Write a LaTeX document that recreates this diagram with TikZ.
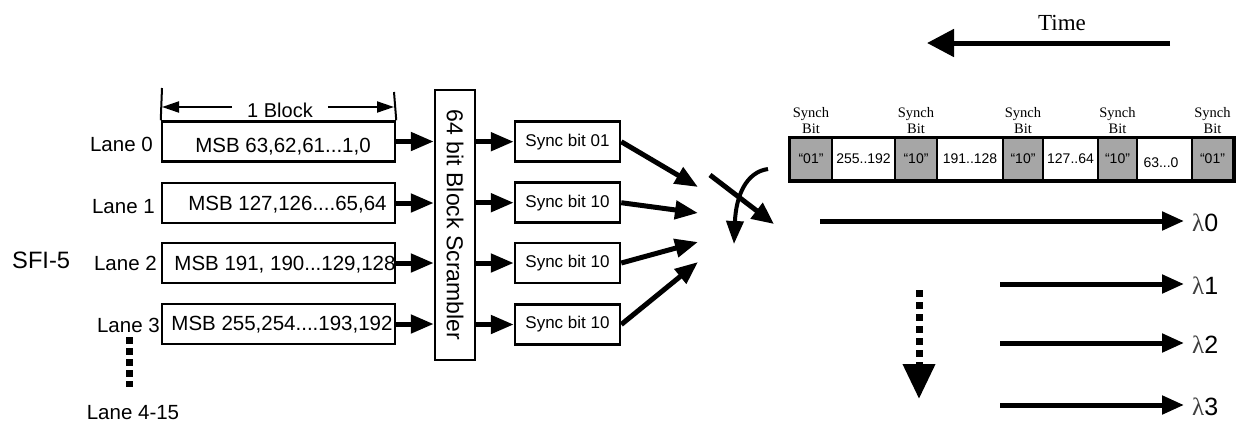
\documentclass[tikz,border=0pt]{standalone}
\usepackage{fontspec}
\setmainfont{Liberation Sans}
\newfontfamily\serifface{Liberation Serif}
\usetikzlibrary{arrows.meta}
\newcommand{\fs}[1]{\fontsize{#1}{#1}\selectfont}
\begin{document}
\begin{tikzpicture}[x=1pt,y=-1pt,
  box/.style={draw, line width=2.5pt, inner sep=0pt, minimum height=40pt},
  lanebox/.style={box, minimum width=233pt},
  syncbox/.style={box, minimum width=105pt, font=\fs{17}},
  txt/.style={inner sep=0pt, font=\fs{20.5}},
  big/.style={line width=5pt, -{Triangle[length=23pt,width=18pt]}},
  dim/.style={line width=2pt, -{Triangle[length=17pt,width=11pt]}},
  cell/.style={draw, line width=1.5pt, inner sep=0pt, minimum height=42pt, font=\fs{14}},
  graycell/.style={cell, fill=black!35},
  synch/.style={align=center, inner sep=0pt, font=\serifface\fontsize{14.5}{16}\selectfont},
  lam/.style={line width=5pt, -{Triangle[length=22pt,width=18pt]}},
  lamtxt/.style={anchor=west, inner sep=0pt, font=\fs{25}},
  dots/.style={line width=7pt, dash pattern=on 7pt off 4pt}
]
\useasboundingbox (0,0) rectangle (1236,424);

% lane boxes
\node[lanebox] (l0) at (278.5,141.5) {};
\node[lanebox] (l1) at (278.5,203) {};
\node[lanebox] (l2) at (278.5,263) {};
\node[lanebox] (l3) at (278.5,324) {};
\node[txt] (t0) at (283,147) {MSB 63,62,61...1,0};
\node[txt] (t1) at (287.5,205) {MSB 127,126....65,64};
\node[txt] (t2) at (285,265) {MSB 191, 190...129,128};
\node[txt] (t3) at (282,325) {MSB 255,254....193,192};

% lane labels
\node[txt, anchor=east] (n0) at (153,144) {Lane 0};
\node[txt, anchor=east] (n1) at (155,207) {Lane 1};
\node[txt, anchor=east] (n2) at (157,263) {Lane 2};
\node[txt, anchor=east] (n3) at (160,325) {Lane 3};
\node[inner sep=0pt, font=\fs{23.7}, anchor=west] (sfi) at (12,260) {SFI-5};
\node[txt] (n415) at (133,413) {Lane 4-15};
\coordinate (ld0) at (129,337);
\coordinate (ld1) at (129,387);
\draw[dots] (ld0) -- (ld1);

% 1 Block dimension
\coordinate (da) at (162,107);
\coordinate (db) at (394,107);
\coordinate (ea) at (162,88);
\coordinate (eb) at (394,92);
\draw[line width=2pt] (ea) -- (l0.north west);
\draw[line width=2pt] (eb) -- (l0.north east);
\node[txt, inner xsep=15pt, font=\fs{20}] (blk) at (280,110) {1 Block};
\draw[dim] (blk.west |- da) -- (da);
\draw[dim] (blk.east |- db) -- (db);

% scrambler
\node[box, minimum width=40pt, minimum height=270pt] (scr) at (455,225) {};
\node[rotate=-90, inner sep=0pt, font=\fs{23}] (scrt) at (455,225) {64 bit Block Scrambler};

% sync boxes
\node[syncbox] (s0) at (567.5,141.7) {Sync bit 01};
\node[syncbox] (s1) at (567.5,202.7) {Sync bit 10};
\node[syncbox] (s2) at (567.5,263) {Sync bit 10};
\node[syncbox] (s3) at (567.5,324.5) {Sync bit 10};

\foreach \i in {0,1,2,3}{
  \draw[big] (l\i.east) -- (l\i.east -| scr.west);
  \draw[big] (scr.east |- s\i.west) -- (s\i.west);
}

% converging arrows
\coordinate (m0) at (698,187);
\coordinate (m1) at (698,213);
\coordinate (m2) at (698,242);
\coordinate (m3) at (698,262);
\draw[big] (s0.east) -- (m0);
\draw[big] (s1.east) -- (m1);
\draw[big] (s2.east) -- (m2);
\draw[big] (s3.east) -- (m3);

% cross symbol
\coordinate (x0) at (710,175);
\coordinate (x1) at (774,224);
\draw[line width=5pt, -{Triangle[length=22pt,width=19pt]}] (x0) -- (x1);
\coordinate (k0) at (768,169);
\coordinate (k1) at (734,244);
\draw[line width=4pt, -{Triangle[length=23pt,width=17pt]}] (k0) .. controls (746,172) and (736,196) .. (k1);

% Time
\node[inner sep=0pt, font=\serifface\fs{23}] (time) at (1062,23) {Time};
\coordinate (ta) at (1170,43);
\coordinate (tb) at (927,43);
\draw[line width=5pt, -{Triangle[length=27pt,width=27pt]}] (ta) -- (tb);

% frame
\node[graycell, minimum width=42pt] (c1) at (811,159) {``01''};
\node[cell, minimum width=63pt] (c2) at (863.5,159) {255..192};
\node[graycell, minimum width=42pt] (c3) at (916,159) {``10''};
\node[cell, minimum width=66pt] (c4) at (970,159) {191..128};
\node[graycell, minimum width=40pt] (c5) at (1023,159) {``10''};
\node[cell, minimum width=55pt] (c6) at (1070.5,159) {127..64};
\node[graycell, minimum width=39pt] (c7) at (1117.5,159) {``10''};
\node[cell, minimum width=55pt] (c8) at (1164.5,159) {};
\node[inner sep=0pt, font=\fs{14}] (c8t) at (1161,163) {63...0};
\node[graycell, minimum width=41pt] (c9) at (1212.5,159) {``01''};
\draw[line width=3.5pt] (c1.north west) rectangle (c9.south east);
\foreach \c in {c1,c3,c5,c7,c9}{
  \node[synch, anchor=south] (sb\c) at ([yshift=3pt]\c.north) {Synch\\Bit};
}

% wavelengths
\coordinate (a0) at (820,221);   \coordinate (b0) at (1184,221);
\coordinate (a1) at (1000,284);  \coordinate (b1) at (1184,284);
\coordinate (a2) at (1000,343);  \coordinate (b2) at (1184,343);
\coordinate (a3) at (1000,405);  \coordinate (b3) at (1184,405);
\foreach \i in {0,1,2,3}{
  \draw[lam] (a\i) -- (b\i);
  \node[lamtxt] (lt\i) at ([xshift=8pt,yshift=-2pt]b\i) {{\serifface\color{black!75}λ}\i};
}

% dotted down arrow
\coordinate (dd0) at (919,290);
\coordinate (dd1) at (919,399);
\draw[line width=7pt, dash pattern=on 7pt off 5pt, -{Triangle[length=35pt,width=31pt]}] (dd0) -- (dd1);
\end{tikzpicture}
\end{document}
